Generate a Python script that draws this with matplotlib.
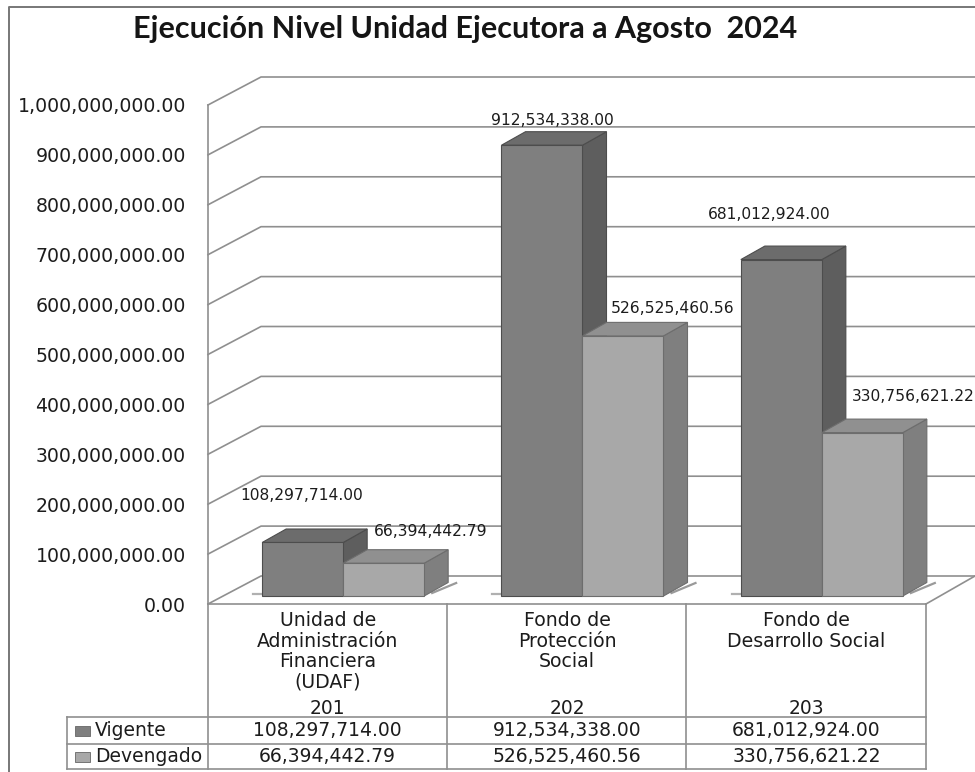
import matplotlib
matplotlib.use("Agg")
import matplotlib.pyplot as plt
from matplotlib.ticker import FuncFormatter

title = "Ejecución Nivel Unidad Ejecutora a Agosto  2024"
codes = ["201", "202", "203"]
categories = ["Unidad de\nAdministración\nFinanciera\n(UDAF)", "Fondo de\nProtección\nSocial", "Fondo de\nDesarrollo Social"]
series_names = ["Vigente", "Devengado"]
vigente = [108297714.00, 912534338.00, 681012924.00]
devengado = [66394442.79, 526525460.56, 330756621.22]
y_ticks = [i * 100000000 for i in range(11)]

W, H = 975, 772
L, R, T, B = 208, 926, 105, 604
LINE = "#8f8f8f"
TEXT = "#1c1c1c"
FRONT = ["#7f7f7f", "#a8a8a8"]
TOP = ["#6c6c6c", "#909090"]
SIDE = ["#5e5e5e", "#7f7f7f"]
label_offsets = [[(-1, 47), (47, 32)], [(10, 25), (50, 27)], [(-12, 45), (51, 36)]]
perspective = 0.99  # bars stand slightly further back than the front wall

plt.rcParams["font.family"] = "DejaVu Sans"
fig = plt.figure(figsize=(W / 100, H / 100), dpi=100, facecolor="white")

# page furniture in pixel coordinates
bg = fig.add_axes([0, 0, 1, 1], zorder=0)
bg.set_xlim(0, W); bg.set_ylim(H, 0); bg.axis("off")
bg.plot([9, 9, W], [H, 7, 7], color="#777777", lw=1.4)
for y in (717, 744, 769):
    bg.plot([67, R], [y, y], color=LINE, lw=1.2)
bg.plot([L, R], [B, B], color=LINE, lw=1.2)
bg.plot([67, 67], [717, 769], color=LINE, lw=1.2)
for x in (L, 447, 686, R):
    bg.plot([x, x], [B, 769], color=LINE, lw=1.2)

ax = fig.add_axes([L / W, 1 - B / H, (R - L) / W, (B - T) / H], zorder=1)
ax.patch.set_visible(False)
ax.set_xlim(-0.5, 2.5)
ax.set_ylim(0, 1e9)
for s in ax.spines.values():
    s.set_visible(False)
ax.set_xticks([])
ax.set_yticks(y_ticks)
ax.yaxis.set_major_formatter(FuncFormatter(lambda v, _: f"{v:,.2f}"))
ax.tick_params(axis="y", length=0, pad=16, labelsize=13.6, labelcolor=TEXT)

px_x = 3.0 / (R - L)
px_y = 1e9 / (B - T)
dx_wall, dy_wall = 53 * px_x, 28 * px_y
x0 = -0.5
x_end = x0 + (W - L) * px_x

ax.plot([x0, x0], [0, 1e9], color=LINE, lw=1.2, clip_on=False)
for v in y_ticks:
    ax.plot([x0, x0 + dx_wall, x_end], [v, v + dy_wall, v + dy_wall], color=LINE, lw=1.2, clip_on=False)
ax.plot([2.5, 2.5 + dx_wall * 49 / 53], [0, dy_wall], color=LINE, lw=1.2, clip_on=False)

bar_w = 81 * px_x
dep_x, dep_y = 24 * px_x, 13.5 * px_y
base = 8 * px_y
start = -65.5 * px_x
for i in range(len(categories)):
    # small floor shadows beside the pair of bars
    left = i + start
    right = left + 2 * bar_w
    ax.plot([left - 9 * px_x, left], [base + 2 * px_y, base + 2 * px_y], color="#b0b0b0", lw=1.6, clip_on=False, zorder=2)
    ax.plot([right + 8 * px_x, right + 32 * px_x], [base + 3 * px_y, base + 13 * px_y], color="#9a9a9a", lw=1.6, clip_on=False, zorder=2)
    for j, vals in enumerate((vigente, devengado)):
        v = vals[i]
        a = i + start + j * bar_w
        b = a + bar_w
        top = base + v * perspective
        ec = "#4d4d4d" if j == 0 else "#6d6d6d"
        ax.fill([b, b + dep_x, b + dep_x, b], [base, base + dep_y, top + dep_y, top],
                fc=SIDE[j], ec=ec, lw=0.8, clip_on=False, zorder=3 + j)
        ax.fill([a, a + dep_x, b + dep_x, b], [top, top + dep_y, top + dep_y, top],
                fc=TOP[j], ec=ec, lw=0.8, clip_on=False, zorder=3 + j)
        ax.fill([a, b, b, a], [base, base, top, top],
                fc=FRONT[j], ec=ec, lw=0.8, clip_on=False, zorder=3 + j)
        ox, oy = label_offsets[i][j]
        ax.annotate(f"{v:,.2f}", xy=((a + b) / 2, top), xytext=(ox, oy), textcoords="offset pixels",
                    ha="center", va="center", fontsize=11.2, color=TEXT,
                    annotation_clip=False, zorder=8)

# title, category labels and data table
fig.text(465 / W, 1 - 29 / H, title, family="Lato", weight="bold", fontsize=22,
         ha="center", va="center", color="#151515")
for i, (cat, code) in enumerate(zip(categories, codes)):
    cx = L + 239.33 * (i + 0.5)
    bg.text(cx, 611, cat, ha="center", va="top", fontsize=13.6, linespacing=1.11, color=TEXT)
    bg.text(cx, 708, code, ha="center", va="center", fontsize=13.4, color=TEXT)
    bg.text(cx, 731, f"{vigente[i]:,.2f}", ha="center", va="center", fontsize=13.5, color=TEXT)
    bg.text(cx, 757, f"{devengado[i]:,.2f}", ha="center", va="center", fontsize=13.5, color=TEXT)
for name, y, c in zip(series_names, (731, 757), FRONT):
    bg.fill([75, 90, 90, 75], [y - 5, y - 5, y + 5, y + 5], fc=c, ec="#666666", lw=0.6)
    bg.text(95, y, name, ha="left", va="center", fontsize=13.5, color=TEXT)

fig.savefig("out.png", dpi=100)
